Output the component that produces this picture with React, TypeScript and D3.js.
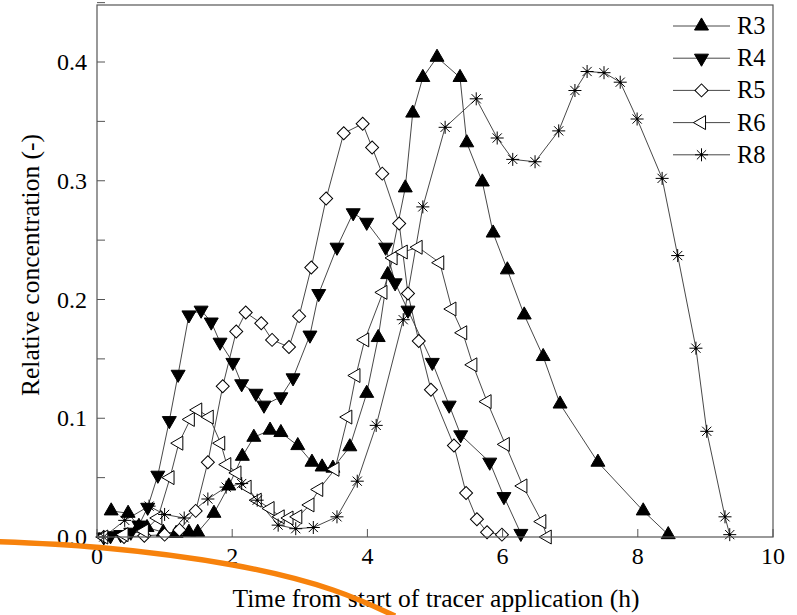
import React from "react";
import * as d3 from "d3";

type Pt = [number, number];

const seriesNames = ["R3", "R4", "R5", "R6", "R8"];

const r3: Pt[] = [
  [0.21, 0.022], [0.46, 0.02], [0.62, 0.009], [0.74, 0.008], [0.98, 0.004], [1.17, 0.003],
  [1.36, 0.004], [1.49, 0.004], [1.73, 0.02], [1.95, 0.043], [2.15, 0.068], [2.32, 0.084],
  [2.56, 0.09], [2.72, 0.088], [2.97, 0.077], [3.18, 0.063], [3.33, 0.059], [3.49, 0.058],
  [3.74, 0.076], [3.99, 0.121], [4.16, 0.168], [4.3, 0.221], [4.56, 0.294], [4.67, 0.357],
  [4.82, 0.387], [5.03, 0.404], [5.37, 0.387], [5.47, 0.332], [5.7, 0.299], [5.86, 0.256],
  [6.07, 0.225], [6.32, 0.187], [6.6, 0.152], [6.85, 0.112], [7.41, 0.063], [8.08, 0.022],
  [8.45, 0.002],
];

const r4: Pt[] = [
  [0.1, 0.0], [0.2, 0.001], [0.35, 0.002], [0.5, 0.004], [0.62, 0.01], [0.75, 0.025],
  [0.9, 0.052], [1.07, 0.098], [1.2, 0.137], [1.36, 0.187], [1.54, 0.191], [1.69, 0.181],
  [1.82, 0.164], [2.01, 0.147], [2.14, 0.129], [2.35, 0.121], [2.47, 0.111], [2.72, 0.118],
  [2.9, 0.134], [3.15, 0.17], [3.28, 0.205], [3.55, 0.244], [3.79, 0.273], [3.99, 0.265],
  [4.27, 0.244], [4.41, 0.214], [4.6, 0.191], [4.96, 0.147], [5.21, 0.111], [5.38, 0.086],
  [5.81, 0.063], [6.02, 0.034], [6.27, 0.003],
];

const r5: Pt[] = [
  [0.1, 0.0], [0.4, 0.0], [0.7, 0.001], [1.0, 0.002], [1.22, 0.006], [1.46, 0.022],
  [1.64, 0.063], [1.86, 0.127], [2.06, 0.173], [2.2, 0.189], [2.43, 0.18], [2.59, 0.166],
  [2.84, 0.16], [2.99, 0.186], [3.17, 0.227], [3.39, 0.285], [3.65, 0.34], [3.93, 0.348],
  [4.07, 0.328], [4.22, 0.306], [4.47, 0.264], [4.6, 0.205], [4.76, 0.165], [4.94, 0.124],
  [5.28, 0.077], [5.46, 0.037], [5.62, 0.015], [5.77, 0.004], [5.99, 0.002],
];

const r6: Pt[] = [
  [0.1, 0.0], [0.4, 0.002], [0.7, 0.005], [0.9, 0.016], [1.08, 0.05], [1.21, 0.079],
  [1.38, 0.099], [1.49, 0.107], [1.66, 0.101], [1.83, 0.079], [1.92, 0.061], [2.07, 0.054],
  [2.22, 0.042], [2.37, 0.031], [2.56, 0.024], [2.71, 0.017], [2.84, 0.016], [2.97, 0.017],
  [3.15, 0.027], [3.28, 0.04], [3.52, 0.057], [3.71, 0.101], [3.83, 0.136], [3.96, 0.166],
  [4.23, 0.206], [4.38, 0.235], [4.53, 0.24], [4.75, 0.244], [5.07, 0.231], [5.25, 0.192],
  [5.41, 0.172], [5.56, 0.145], [5.77, 0.114], [6.04, 0.078], [6.3, 0.043], [6.58, 0.013],
  [6.66, 0.0],
];

const r8: Pt[] = [
  [0.1, 0.0], [0.41, 0.014], [0.77, 0.026], [1.0, 0.019], [1.29, 0.016], [1.64, 0.032],
  [1.91, 0.042], [2.14, 0.045], [2.37, 0.031], [2.68, 0.01], [2.94, 0.007], [3.2, 0.008],
  [3.55, 0.017], [3.85, 0.047], [4.13, 0.094], [4.53, 0.183], [4.82, 0.278], [5.15, 0.345],
  [5.61, 0.369], [5.92, 0.336], [6.15, 0.318], [6.48, 0.316], [6.83, 0.342], [7.07, 0.376],
  [7.25, 0.392], [7.5, 0.391], [7.74, 0.383], [7.99, 0.352], [8.36, 0.302], [8.59, 0.237],
  [8.86, 0.159], [9.02, 0.089], [9.29, 0.017], [9.36, 0.002],
];

const allSeries: Pt[][] = [r3, r4, r5, r6, r8];
const markerKinds = ["up", "down", "diamond", "left", "star"];

const xTicks = [0, 2, 4, 6, 8, 10];
const yTickLabels = [0, 0.1, 0.2, 0.3, 0.4];
const yMinorTicks = [0, 0.05, 0.1, 0.15, 0.2, 0.25, 0.3, 0.35, 0.4, 0.45];

const xTitle = "Time from start of tracer application (h)";
const yTitle = "Relative concentration (-)";

// orange annotation stroke across lower-left (pixel guide points)
const orangeGuide: Pt[] = [[-5, 541.5], [100, 547.5], [233, 565], [333, 590], [395, 616]];

const W = 797;
const H = 615;
const left = 97, right = 773, top = 5, bottom = 537;
const FONT = "Liberation Serif, Times New Roman, Times, serif";
const txt = { fontFamily: FONT } as React.CSSProperties;

function Marker({ kind, x, y, s }: { kind: string; x: number; y: number; s: number }) {
  if (kind === "up" || kind === "down" || kind === "left") {
    const path = d3.symbol(d3.symbolTriangle, s * s * 0.5)()!;
    const rot = kind === "up" ? 0 : kind === "down" ? 180 : -90;
    const fill = kind === "left" ? "#fff" : "#000";
    return (
      <path d={path} transform={`translate(${x},${y}) rotate(${rot})`} fill={fill}
        stroke="#000" strokeWidth={1} />
    );
  }
  if (kind === "diamond") {
    const path = d3.symbol(d3.symbolSquare, s * s * 0.5)()!;
    return (
      <path d={path} transform={`translate(${x},${y}) rotate(45)`} fill="#fff"
        stroke="#000" strokeWidth={1} />
    );
  }
  const r = s * 0.5;
  const angles = [0, 45, 90, 135];
  return (
    <g transform={`translate(${x},${y})`}>
      {angles.map((a) => {
        const rad = (a * Math.PI) / 180;
        const dx = Math.cos(rad) * r, dy = Math.sin(rad) * r;
        return <line key={a} x1={-dx} y1={-dy} x2={dx} y2={dy} stroke="#000" strokeWidth={1} />;
      })}
      <circle r={1.3} fill="#000" />
    </g>
  );
}

export default function App() {
  const x = d3.scaleLinear().domain([0, 10]).range([left, right]);
  const y = d3.scaleLinear().domain([0, 0.448]).range([bottom, top]);
  const line = d3.line<Pt>().x((d) => x(d[0])).y((d) => y(d[1]));
  const orangeLine = d3.line<Pt>().x((d) => d[0]).y((d) => d[1]).curve(d3.curveNatural);

  const legendX0 = 673, legendX1 = 730, legendY0 = 26, legendDy = 32.2;

  return (
    <svg width={W} height={H} style={{ position: "absolute", left: 0, top: 0, background: "#fff" }}>
      <rect x={0} y={0} width={W} height={H} fill="#fff" />
      {allSeries.map((s, i) => (
        <path key={"l" + i} d={line(s)!} fill="none" stroke="#333" strokeWidth={0.9} />
      ))}
      {allSeries.map((s, i) => (
        <g key={"m" + i}>
          {s.map((d, j) => (
            <Marker key={j} kind={markerKinds[i]} x={x(d[0])} y={y(d[1])} s={13} />
          ))}
        </g>
      ))}
      <rect x={left} y={top} width={right - left} height={bottom - top} fill="none"
        stroke="#555" strokeWidth={1.2} />
      {xTicks.map((t) => (
        <g key={"xt" + t}>
          <line x1={x(t)} x2={x(t)} y1={bottom} y2={bottom - 8} stroke="#555" strokeWidth={1} />
          <text x={x(t)} y={564} textAnchor="middle" fontSize={24} fill="#000" style={txt}>{t}</text>
        </g>
      ))}
      {yMinorTicks.map((t) => (
        <line key={"ym" + t} x1={left} x2={left + 8} y1={y(t)} y2={y(t)} stroke="#555" strokeWidth={1} />
      ))}
      {yTickLabels.map((t) => (
        <text key={"yl" + t} x={87} y={y(t) + 8} textAnchor="end" fontSize={24} fill="#000" style={txt}>
          {t.toFixed(1)}
        </text>
      ))}
      <text x={436} y={607} textAnchor="middle" fontSize={25.5} fill="#000" style={txt}>{xTitle}</text>
      <text transform={`translate(39,265) rotate(-90)`} textAnchor="middle" fontSize={25.5} fill="#000" style={txt}>
        {yTitle}
      </text>
      {seriesNames.map((n, i) => {
        const ly = legendY0 + i * legendDy;
        return (
          <g key={"lg" + n}>
            <line x1={legendX0} x2={legendX1} y1={ly} y2={ly} stroke="#333" strokeWidth={0.9} />
            <Marker kind={markerKinds[i]} x={(legendX0 + legendX1) / 2} y={ly} s={13} />
            <text x={737} y={ly + 8} fontSize={24.5} fill="#000" style={txt}>{n}</text>
          </g>
        );
      })}
      <path d={orangeLine(orangeGuide)!} fill="none" stroke="#f7820c" strokeWidth={5.5}
        strokeLinecap="butt" />
    </svg>
  );
}
